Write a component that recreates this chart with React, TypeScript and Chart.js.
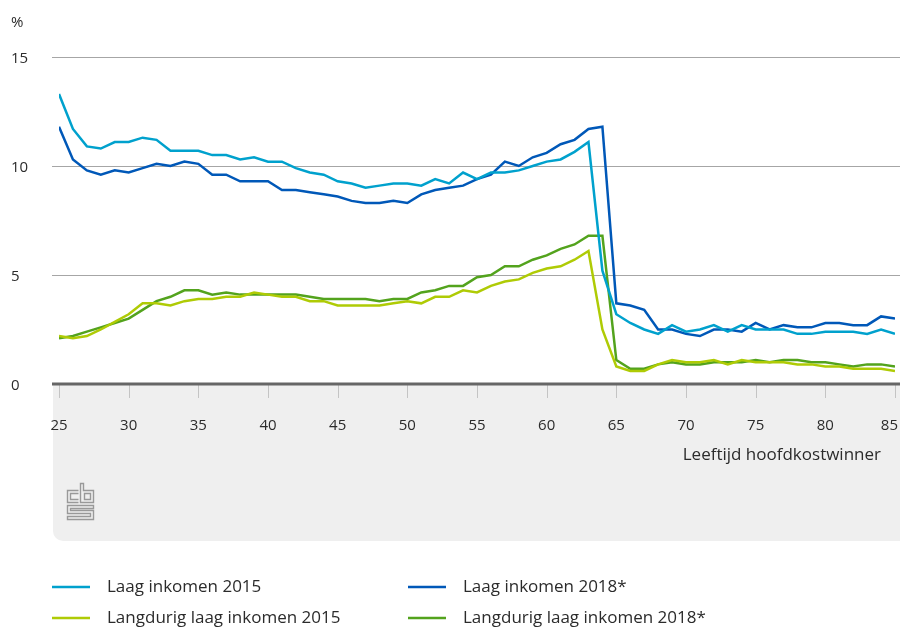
import React, { useEffect, useRef } from "react";
import { Chart, registerables } from "chart.js";

Chart.register(...registerables);

const ages = [
  25, 26, 27, 28, 29, 30, 31, 32, 33, 34,
  35, 36, 37, 38, 39, 40, 41, 42, 43, 44,
  45, 46, 47, 48, 49, 50, 51, 52, 53, 54,
  55, 56, 57, 58, 59, 60, 61, 62, 63, 64,
  65, 66, 67, 68, 69, 70, 71, 72, 73, 74,
  75, 76, 77, 78, 79, 80, 81, 82, 83, 84,
  85,
];

const laagInkomen2015 = [
  13.3, 11.7, 10.9, 10.8, 11.1, 11.1, 11.3, 11.2, 10.7, 10.7,
  10.7, 10.5, 10.5, 10.3, 10.4, 10.2, 10.2, 9.9, 9.7, 9.6,
  9.3, 9.2, 9.0, 9.1, 9.2, 9.2, 9.1, 9.4, 9.2, 9.7,
  9.4, 9.7, 9.7, 9.8, 10.0, 10.2, 10.3, 10.65, 11.1, 5.2,
  3.2, 2.8, 2.5, 2.3, 2.7, 2.4, 2.5, 2.7, 2.4, 2.7,
  2.5, 2.5, 2.5, 2.3, 2.3, 2.4, 2.4, 2.4, 2.3, 2.5,
  2.3,
];

const laagInkomen2018 = [
  11.8, 10.3, 9.8, 9.6, 9.8, 9.7, 9.9, 10.1, 10.0, 10.2,
  10.1, 9.6, 9.6, 9.3, 9.3, 9.3, 8.9, 8.9, 8.8, 8.7,
  8.6, 8.4, 8.3, 8.3, 8.4, 8.3, 8.7, 8.9, 9.0, 9.1,
  9.4, 9.6, 10.2, 10.0, 10.4, 10.6, 11.0, 11.2, 11.7, 11.8,
  3.7, 3.6, 3.4, 2.5, 2.5, 2.3, 2.2, 2.5, 2.5, 2.4,
  2.8, 2.5, 2.7, 2.6, 2.6, 2.8, 2.8, 2.7, 2.7, 3.1,
  3.0,
];

const langdurig2015 = [
  2.2, 2.1, 2.2, 2.5, 2.85, 3.2, 3.7, 3.7, 3.6, 3.8,
  3.9, 3.9, 4.0, 4.0, 4.2, 4.1, 4.0, 4.0, 3.8, 3.8,
  3.6, 3.6, 3.6, 3.6, 3.7, 3.8, 3.7, 4.0, 4.0, 4.3,
  4.2, 4.5, 4.7, 4.8, 5.1, 5.3, 5.4, 5.7, 6.1, 2.5,
  0.8, 0.6, 0.6, 0.9, 1.1, 1.0, 1.0, 1.1, 0.9, 1.1,
  1.0, 1.0, 1.0, 0.9, 0.9, 0.8, 0.8, 0.7, 0.7, 0.7,
  0.6,
];

const langdurig2018 = [
  2.1, 2.2, 2.4, 2.6, 2.8, 3.0, 3.4, 3.8, 4.0, 4.3,
  4.3, 4.1, 4.2, 4.1, 4.1, 4.1, 4.1, 4.1, 4.0, 3.9,
  3.9, 3.9, 3.9, 3.8, 3.9, 3.9, 4.2, 4.3, 4.5, 4.5,
  4.9, 5.0, 5.4, 5.4, 5.7, 5.9, 6.2, 6.4, 6.8, 6.8,
  1.1, 0.7, 0.7, 0.9, 1.0, 0.9, 0.9, 1.0, 1.0, 1.0,
  1.1, 1.0, 1.1, 1.1, 1.0, 1.0, 0.9, 0.8, 0.9, 0.9,
  0.8,
];

const yTicks = [0, 5, 10, 15];
const xTicks = [25, 30, 35, 40, 45, 50, 55, 60, 65, 70, 75, 80, 85];
const seriesNames = [
  "Laag inkomen 2015",
  "Laag inkomen 2018*",
  "Langdurig laag inkomen 2015",
  "Langdurig laag inkomen 2018*",
];
const seriesColors = ["#00a1cd", "#0058b8", "#afcb05", "#53a31d"];
const yUnit = "%";
const xTitle = "Leeftijd hoofdkostwinner";

const FONT = '"Open Sans", "DejaVu Sans", sans-serif';
const TEXT = "#2b2b2b";

const decorPlugin = {
  id: "cbsDecor",
  beforeDatasetsDraw(chart: any) {
    const ctx = chart.ctx;
    const xs = chart.scales.x;
    const ys = chart.scales.y;
    const y0 = ys.getPixelForValue(0);
    ctx.save();
    // grey panel below axis
    ctx.fillStyle = "#efefef";
    ctx.beginPath();
    if (ctx.roundRect) {
      ctx.roundRect(53, y0, 900 - 53 + 10, 541 - y0, [0, 0, 10, 10]);
    } else {
      ctx.rect(53, y0, 900 - 53, 541 - y0);
    }
    ctx.fill();

    // gridlines
    ctx.strokeStyle = "#a6a6a6";
    ctx.lineWidth = 1;
    yTicks.forEach((t) => {
      if (t === 0) return;
      const y = Math.round(ys.getPixelForValue(t)) + 0.5;
      ctx.beginPath();
      ctx.moveTo(52, y);
      ctx.lineTo(900, y);
      ctx.stroke();
    });

    // x tick marks
    ctx.strokeStyle = "#c4c4c4";
    xTicks.forEach((t) => {
      const x = Math.round(xs.getPixelForValue(t)) + 0.5;
      ctx.beginPath();
      ctx.moveTo(x, y0);
      ctx.lineTo(x, y0 + 14);
      ctx.stroke();
    });

    // y labels
    ctx.fillStyle = TEXT;
    ctx.font = `15px ${FONT}`;
    ctx.textAlign = "left";
    ctx.textBaseline = "middle";
    yTicks.forEach((t) => {
      const y = ys.getPixelForValue(t);
      ctx.fillText(String(t), 11, y + 2);
    });
    ctx.fillText(yUnit, 11, 23);

    // x labels
    xTicks.forEach((t) => {
      const x = xs.getPixelForValue(t);
      const label = String(t);
      const w = ctx.measureText(label).width;
      const cx = Math.min(x, 898 - w / 2);
      ctx.textAlign = "center";
      ctx.fillText(label, cx, y0 + 42);
    });

    // axis title
    ctx.font = `17px ${FONT}`;
    ctx.textAlign = "right";
    ctx.fillText(xTitle, 881, y0 + 71);

    // cbs logo
    ctx.strokeStyle = "#999999";
    ctx.lineWidth = 1.4;
    const lx = 67.5;
    const ly = 483.5;
    ctx.beginPath();
    // c
    ctx.moveTo(lx + 11, ly + 7);
    ctx.lineTo(lx, ly + 7);
    ctx.lineTo(lx, ly + 19);
    ctx.lineTo(lx + 11, ly + 19);
    ctx.moveTo(lx + 11, ly + 10);
    ctx.lineTo(lx + 3, ly + 10);
    ctx.lineTo(lx + 3, ly + 16);
    ctx.lineTo(lx + 11, ly + 16);
    // b
    ctx.moveTo(lx + 13, ly);
    ctx.lineTo(lx + 13, ly + 19);
    ctx.lineTo(lx + 26, ly + 19);
    ctx.lineTo(lx + 26, ly + 7);
    ctx.lineTo(lx + 16, ly + 7);
    ctx.lineTo(lx + 16, ly);
    ctx.closePath();
    ctx.rect(lx + 17, ly + 10, 6, 6);
    // s
    ctx.moveTo(lx + 26, ly + 22);
    ctx.lineTo(lx, ly + 22);
    ctx.lineTo(lx, ly + 30);
    ctx.lineTo(lx + 23, ly + 30);
    ctx.lineTo(lx + 23, ly + 33);
    ctx.lineTo(lx, ly + 33);
    ctx.lineTo(lx, ly + 36);
    ctx.lineTo(lx + 26, ly + 36);
    ctx.lineTo(lx + 26, ly + 27);
    ctx.lineTo(lx + 3, ly + 27);
    ctx.lineTo(lx + 3, ly + 25);
    ctx.lineTo(lx + 26, ly + 25);
    ctx.closePath();
    ctx.stroke();

    // legend
    const legendPos = [
      [52, 587],
      [408, 587],
      [52, 618],
      [408, 618],
    ];
    ctx.font = `17px ${FONT}`;
    ctx.textAlign = "left";
    ctx.textBaseline = "middle";
    seriesNames.forEach((name, i) => {
      const [x, y] = legendPos[i];
      ctx.strokeStyle = seriesColors[i];
      ctx.lineWidth = 2.5;
      ctx.beginPath();
      ctx.moveTo(x, y);
      ctx.lineTo(x + 38, y);
      ctx.stroke();
      ctx.fillStyle = TEXT;
      ctx.fillText(name, x + 55, y);
    });
    ctx.restore();
  },
  afterDatasetsDraw(chart: any) {
    const ctx = chart.ctx;
    const ys = chart.scales.y;
    const y0 = ys.getPixelForValue(0);
    ctx.save();
    ctx.strokeStyle = "#666666";
    ctx.lineWidth = 3;
    ctx.beginPath();
    ctx.moveTo(52, y0);
    ctx.lineTo(900, y0);
    ctx.stroke();
    ctx.restore();
  },
};

export default function App() {
  const canvasRef = useRef<HTMLCanvasElement | null>(null);

  useEffect(() => {
    document.body.style.margin = "0";
    const canvas = canvasRef.current;
    if (!canvas) return;
    const seriesData = [laagInkomen2015, laagInkomen2018, langdurig2015, langdurig2018];
    const chart = new Chart(canvas, {
      type: "line",
      data: {
        labels: ages,
        datasets: seriesData.map((vals, i) => ({
          label: seriesNames[i],
          data: vals.map((v, j) => ({ x: ages[j], y: v })),
          borderColor: seriesColors[i],
          backgroundColor: seriesColors[i],
          borderWidth: 2.5,
          pointRadius: 0,
          tension: 0,
          fill: false,
        })),
      },
      options: {
        animation: false,
        responsive: false,
        devicePixelRatio: 1,
        layout: { padding: { left: 59, right: 5, top: 57, bottom: 244 } },
        plugins: { legend: { display: false }, tooltip: { enabled: false } },
        scales: {
          x: { type: "linear", min: 25, max: 85, display: false },
          y: { type: "linear", min: 0, max: 15, display: false },
        },
      },
      plugins: [decorPlugin],
    });
    return () => chart.destroy();
  }, []);

  return (
    <div style={{ width: 900, height: 628, background: "#ffffff" }}>
      <canvas ref={canvasRef} width={900} height={628} style={{ display: "block" }} />
    </div>
  );
}
